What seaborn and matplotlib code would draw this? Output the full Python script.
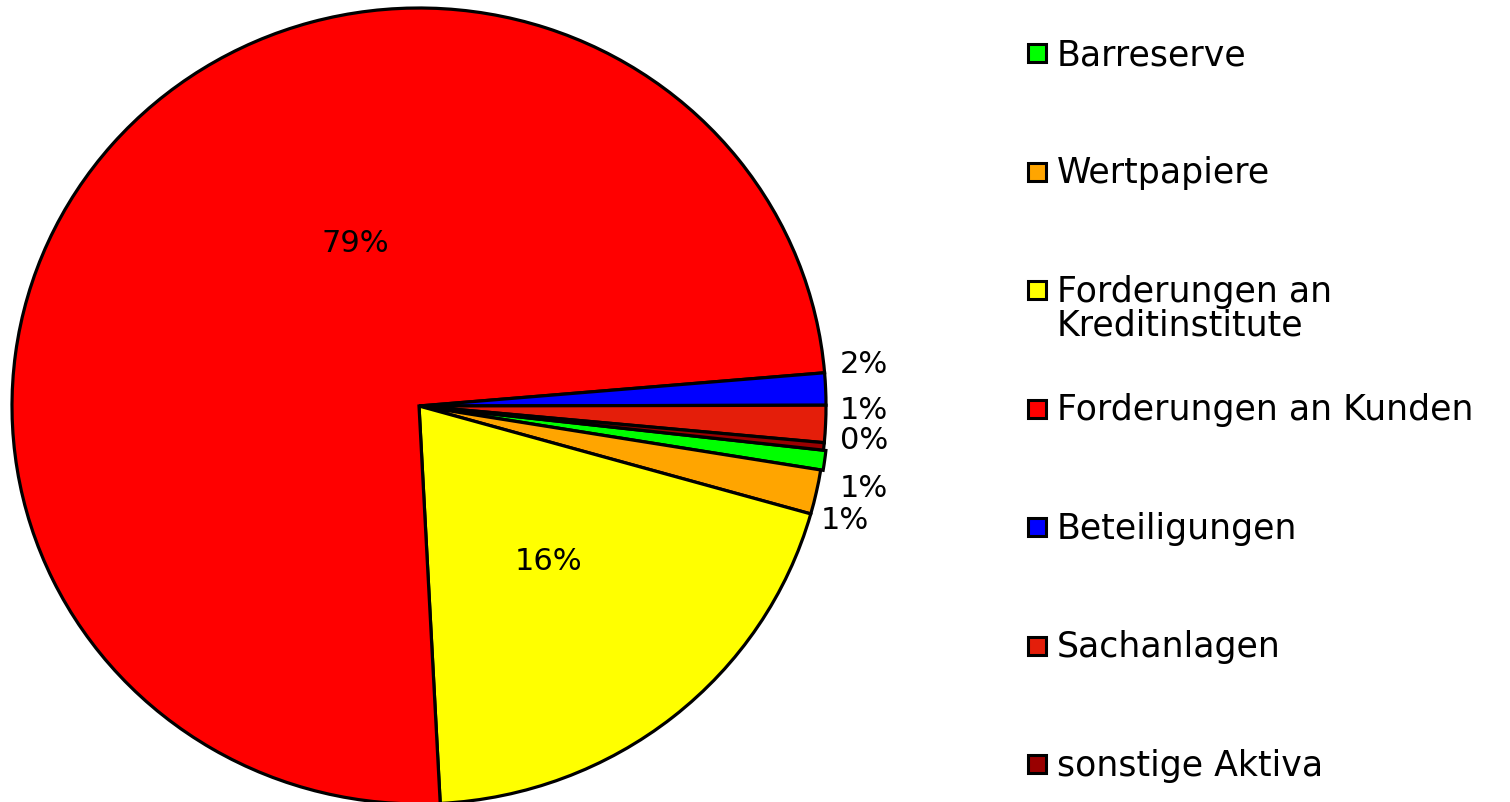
# -*- coding: utf-8 -*-
import matplotlib
matplotlib.use('Agg')
import matplotlib.pyplot as plt
from matplotlib.patches import Rectangle
import seaborn as sns

# -------------------------
# DATA
# -------------------------
categories = ['Barreserve', 'Wertpapiere', 'Forderungen an\nKreditinstitute',
              'Forderungen an Kunden', 'Beteiligungen', 'Sachanlagen', 'sonstige Aktiva']
shares = [0.8, 1.8, 19.8, 74.5, 1.3, 1.5, 0.3]
pct_labels = ['1%', '1%', '16%', '79%', '2%', '1%', '0%']
colors = ['#00FF00', '#FFA500', '#FFFF00', '#FF0000', '#0000FF', '#E41E0A', '#990000']

sns.set_theme(style='white')
plt.rcParams['font.family'] = ['DejaVu Sans']

W, H = 1510, 803
fig = plt.figure(figsize=(W / 100, H / 100), dpi=100)
fig.patch.set_facecolor('white')

# pie area: centre (419, 407) px, radii 407 x 398 px
cx, cy, rx, ry = 419, 407, 407, 398
ax = fig.add_axes([(cx - rx) / W, (H - cy - ry) / H, 2 * rx / W, 2 * ry / H])
explode = [0.006, 0, 0, 0, 0, 0, 0]
wedges, _ = ax.pie(shares, colors=colors, startangle=-6.37, counterclock=False,
                   explode=explode,
                   wedgeprops=dict(edgecolor='black', linewidth=2.3, clip_on=False))
ax.set_xlim(-1, 1)
ax.set_ylim(-1, 1)
ax.set_aspect('auto')
ax.axis('off')

# percentage labels (positions in pie units)
label_pos = [(1.093, -0.204), (1.047, -0.286), (0.319, -0.389), (-0.157, 0.412),
             (1.093, 0.106), (1.093, -0.008), (1.093, -0.083)]
for (lx, ly), txt in zip(label_pos, pct_labels):
    ax.text(lx, ly, txt, ha='center', va='center', fontsize=22, color='black')

# -------------------------
# LEGEND (fixed pitch like the original)
# -------------------------
pitch = 118.5
line_h = 34
for i, (cat, col) in enumerate(zip(categories, colors)):
    yc = 54 + i * pitch
    fig.add_artist(Rectangle((1028 / W, (H - yc - 9) / H), 18 / W, 18 / H,
                             transform=fig.transFigure, facecolor=col,
                             edgecolor='black', linewidth=2.2))
    extra = cat.count('\n') * line_h
    fig.text(1057 / W, (H - yc - 11 - extra) / H, cat, ha='left', va='baseline',
             fontsize=25, color='black', linespacing=1.0)

fig.savefig('out.png', dpi=100, facecolor='white')
